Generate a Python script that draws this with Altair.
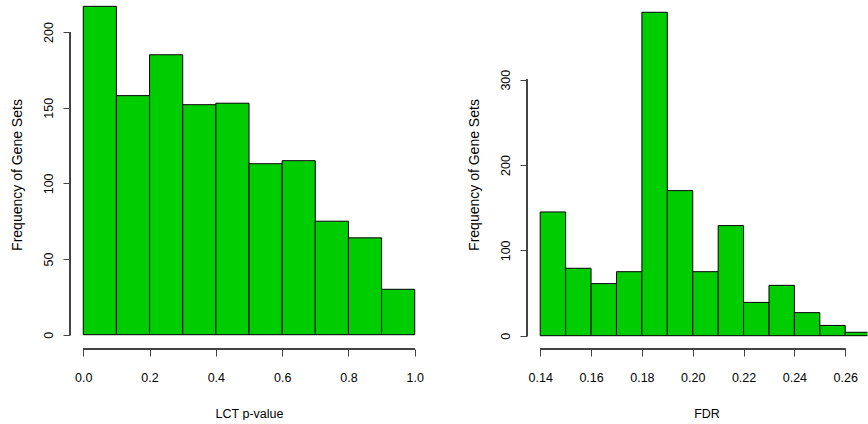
import altair as alt
import pandas as pd

# Left histogram: LCT p-value
lct_lo = [0.0, 0.1, 0.2, 0.3, 0.4, 0.5, 0.6, 0.7, 0.8, 0.9]
lct_hi = [0.1, 0.2, 0.3, 0.4, 0.5, 0.6, 0.7, 0.8, 0.9, 1.0]
lct_count = [217, 158, 185, 152, 153, 113, 115, 75, 64, 30]

# Right histogram: FDR
fdr_lo = [0.14, 0.15, 0.16, 0.17, 0.18, 0.19, 0.20, 0.21, 0.22, 0.23, 0.24, 0.25, 0.26]
fdr_hi = [0.15, 0.16, 0.17, 0.18, 0.19, 0.20, 0.21, 0.22, 0.23, 0.24, 0.25, 0.26, 0.27]
fdr_count = [145, 79, 61, 75, 379, 170, 75, 129, 39, 59, 27, 12, 4]

lct_xticks = [0.0, 0.2, 0.4, 0.6, 0.8, 1.0]
lct_yticks = [0, 50, 100, 150, 200]
fdr_xticks = [0.14, 0.16, 0.18, 0.20, 0.22, 0.24, 0.26]
fdr_yticks = [0, 100, 200, 300]

FONT = "Liberation Sans"
GREEN = "#00CD00"
AXC = "#444444"
H = 349


def panel(lo, hi, cnt, xdom, ydom, xticks, yticks, xfmt, xtitle, width, title_x, clip=False):
    df = pd.DataFrame({"lo": lo, "hi": hi, "count": cnt})
    xs = alt.Scale(domain=xdom, nice=False, zero=False)
    ys = alt.Scale(domain=ydom, nice=False, zero=False)
    bars = alt.Chart(df).mark_rect(
        color=GREEN, stroke="black", strokeWidth=1, clip=clip
    ).encode(
        x=alt.X("lo:Q", scale=xs, axis=alt.Axis(
            values=xticks, format=xfmt, domain=False, grid=False,
            tickSize=7, tickColor=AXC, tickWidth=1,
            labelFont=FONT, labelFontSize=12.5, labelColor="black",
            labelBaseline="middle", labelPadding=21, labelFlush=False,
            title=xtitle, titleFont=FONT, titleFontSize=12.5, titleFontWeight="normal",
            titleColor="black", titleX=title_x, titleY=64, titleAlign="center",
            titleBaseline="middle", titleAnchor="middle")),
        x2="hi:Q",
        y=alt.Y("zero:Q", scale=ys, axis=alt.Axis(
            values=yticks, domain=False, grid=False,
            tickSize=7, tickColor=AXC, tickWidth=1,
            labelFont=FONT, labelFontSize=12.5, labelColor="black",
            labelAngle=270, labelAlign="center", labelBaseline="middle",
            labelPadding=15, labelFlush=False,
            title="Frequency of Gene Sets", titleFont=FONT, titleFontSize=14,
            titleFontWeight="normal", titleColor="black", titleAngle=270,
            titleX=-53, titleY=H / 2, titleAlign="center", titleBaseline="middle")),
        y2="count:Q",
    ).transform_calculate(zero="0")
    yline = alt.Chart(df).mark_rule(color=AXC, strokeWidth=1).encode(
        x=alt.value(0), y=alt.Y(datum=yticks[0]), y2=alt.Y2(datum=yticks[-1]))
    xline = alt.Chart(df).mark_rule(color=AXC, strokeWidth=1).encode(
        y=alt.value(H), x=alt.X(datum=xticks[0]), x2=alt.X2(datum=xticks[-1]))
    return alt.layer(bars, yline, xline).properties(width=width, height=H)


left = panel(lct_lo, lct_hi, lct_count, [-0.04, 1.04], [-9.45, 221.2],
             lct_xticks, lct_yticks, ".1f", "LCT p-value", 358, 179)
right = panel(fdr_lo, fdr_hi, fdr_count, [0.1348, 0.26875], [-15.6, 393.4],
              fdr_xticks, fdr_yticks, ".2f", "FDR", 340.5, 179.5, clip=True)

chart = alt.hconcat(left, right, spacing=39).properties(
    padding={"left": 10, "top": 0, "right": 0, "bottom": 0},
    background="white",
).configure_view(stroke=None)

chart.save("out.html", embed_options={"renderer": "svg", "actions": False})
